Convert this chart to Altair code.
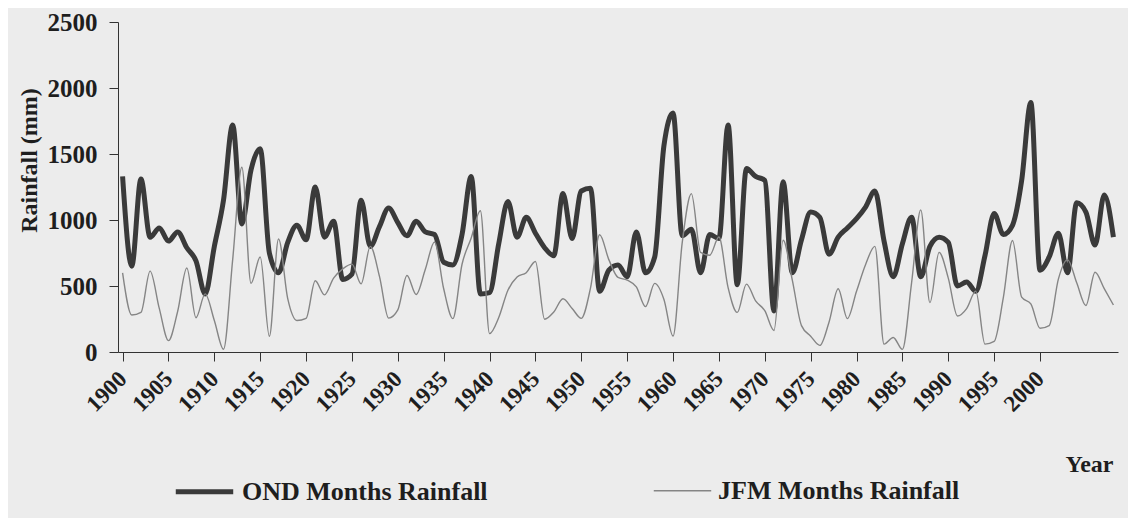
import altair as alt
import pandas as pd

years = list(range(1900, 2009))

ond_rain = [
    1330, 650, 1310, 870, 940, 840, 910, 790, 690, 440,
    800, 1150, 1720, 970, 1380, 1540, 750, 600, 830, 960,
    850, 1250, 870, 990, 550, 590, 1150, 800, 950, 1090,
    980, 880, 990, 910, 890, 680, 660, 890, 1330, 440,
    450, 820, 1140, 870, 1020, 900, 790, 730, 1200, 860,
    1220, 1240, 460, 620, 660, 570, 910, 600, 720, 1560,
    1810, 880, 930, 600, 890, 860, 1720, 510, 1390, 1330,
    1300, 310, 1290, 600, 850, 1060, 1020, 740, 870, 940,
    1010, 1100, 1220, 840, 570, 820, 1020, 570, 800, 870,
    830, 500, 530, 460, 730, 1050, 890, 960, 1300, 1890,
    620, 720, 900, 600, 1130, 1060, 810, 1190, 870,
]

jfm_rain = [
    600, 280, 300, 613, 330, 86, 307, 636, 260, 440,
    239, 21, 700, 1400, 520, 720, 119, 856, 404, 239,
    255, 540, 433, 560, 630, 666, 516, 800, 573, 257,
    319, 579, 436, 627, 833, 479, 253, 665, 864, 1070,
    139, 261, 468, 568, 601, 686, 248, 303, 403, 330,
    255, 484, 888, 700, 565, 545, 493, 344, 520, 400,
    121, 828, 1200, 755, 733, 871, 488, 300, 514, 387,
    313, 163, 847, 545, 200, 120, 50, 226, 479, 253,
    460, 665, 800, 60, 110, 20, 523, 1077, 374, 755,
    560, 273, 329, 461, 60, 80, 412, 845, 415, 364,
    180, 200, 552, 700, 524, 352, 604, 480, 356,
]

series_names = ["OND Months Rainfall", "JFM Months Rainfall"]
x_tick_years = list(range(1900, 2001, 5))
y_tick_values = [0, 500, 1000, 1500, 2000, 2500]

df = pd.DataFrame({
    "Year": years + years,
    "Rainfall": ond_rain + jfm_rain,
    "Series": [series_names[0]] * len(years) + [series_names[1]] * len(years),
})

FONT = "Liberation Serif"
INK = "#1e1e1e"

legend_spec = alt.Legend(
    title=None,
    orient="none",
    legendX=55,
    legendY=438,
    direction="horizontal",
    columnPadding=162,
    symbolType="stroke",
    symbolSize=3300,
    labelFont=FONT,
    labelFontSize=26,
    labelFontWeight="bold",
    labelColor=INK,
    labelLimit=500,
    labelOffset=6,
)

chart = alt.Chart(df).mark_line(interpolate="monotone").encode(
    x=alt.X(
        "Year:Q",
        scale=alt.Scale(domain=[1899.5, 2008.5], nice=False, zero=False),
        axis=alt.Axis(
            values=x_tick_years,
            format="d",
            labelAngle=-45,
            labelAlign="right",
            labelBaseline="middle",
            labelFont=FONT,
            labelFontSize=23,
            labelFontWeight="bold",
            labelColor=INK,
            labelPadding=14,
            labelOverlap=False,
            tickSize=9,
            tickColor="#333333",
            domainColor="#333333",
            grid=False,
            title="Year",
            titleFont=FONT,
            titleFontSize=24,
            titleFontWeight="bold",
            titleColor=INK,
            titleX=947,
            titleY=112,
            titleAlign="left",
            titleBaseline="middle",
        ),
    ),
    y=alt.Y(
        "Rainfall:Q",
        scale=alt.Scale(domain=[0, 2500], nice=False),
        axis=alt.Axis(
            values=y_tick_values,
            format="d",
            labelFont=FONT,
            labelFontSize=25,
            labelFontWeight="bold",
            labelColor=INK,
            labelPadding=12,
            tickSize=9,
            tickColor="#333333",
            domainColor="#333333",
            grid=False,
            title="Rainfall (mm)",
            titleFont=FONT,
            titleFontSize=24,
            titleFontWeight="bold",
            titleColor=INK,
            titlePadding=6,
            titleY=138,
        ),
    ),
    color=alt.Color(
        "Series:N",
        scale=alt.Scale(domain=series_names, range=["#3a3a3a", "#858585"]),
        legend=legend_spec,
    ),
    strokeWidth=alt.StrokeWidth(
        "Series:N",
        scale=alt.Scale(domain=series_names, range=[5, 1.4]),
        legend=legend_spec,
    ),
).properties(
    width=1000,
    height=330,
    autosize=alt.AutoSizeParams(type="none"),
    padding={"left": 110, "top": 14, "right": 10, "bottom": 166},
    background="#ececec",
).configure_view(stroke=None)

chart.save("out.html", embed_options={"renderer": "svg", "actions": False})
